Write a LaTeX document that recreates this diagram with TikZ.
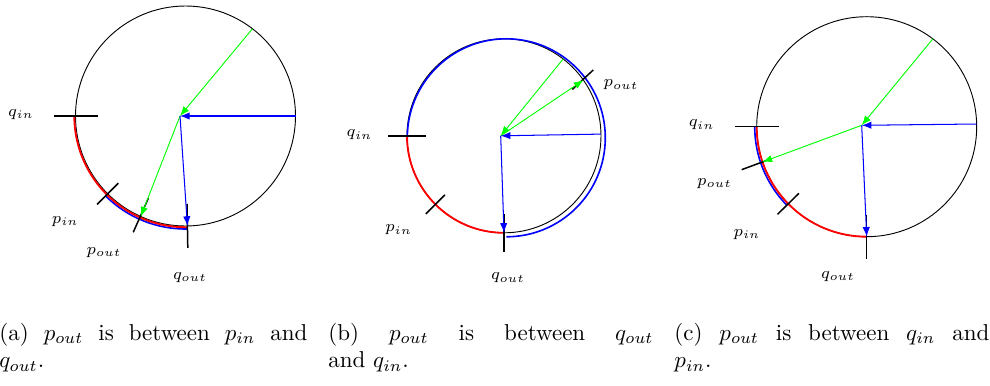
\documentclass[tikz,border=0pt]{standalone}
\usepackage{amsmath}
\usetikzlibrary{arrows.meta,calc}
\tikzset{
  >={Latex[length=4.2pt,width=3.2pt]},
  line cap=round,
  rim/.style={line width=0.4pt},
  ticmark/.style={line width=0.65pt, line cap=butt},
  inarc/.style={red, line width=0.8pt},
  outarc/.style={blue, line width=0.7pt},
  gvec/.style={->, green, line width=0.4pt},
  bvec/.style={->, blue, line width=0.45pt},
  lbl/.style={inner sep=0pt, font=\fontsize{7.4}{8.8}\selectfont},
  capt/.style={anchor=north west, inner sep=0pt, align=justify, font=\fontsize{10}{12}\selectfont}
}
\begin{document}
\begin{tikzpicture}[x=0.435pt, y=0.435pt]
  \useasboundingbox (0,0) rectangle (990,385);

  % (a)
  \begin{scope}[shift={(185.5,269)}]
    \coordinate (a-c) at (0,0);
    \coordinate (a-P) at (-5.5,0);
    \coordinate (a-qin) at (180:110);
    \coordinate (a-pin) at (225:110);
    \coordinate (a-pout) at (246:110);
    \coordinate (a-qout) at (271:110);
    \coordinate (a-east) at (0:110);
    \coordinate (a-ne) at (52.5:110);

    \draw[rim] (a-c) circle (110);
    \draw[outarc] (225:113) arc (225:271:113);
    \draw[inarc] (180:111.2) arc (180:271:111.2);

    \draw[ticmark] (180:88) -- (180:132);
    \draw[ticmark] (225:95) -- (225:125);
    \draw[ticmark] (245.7:90.3) -- (245.8:127.5);
    \draw[ticmark] (271:88) -- (271:132);

    \draw[gvec] (a-ne) -- (a-P);
    \draw[gvec] (a-P) -- (a-pout);
    \draw[bvec] (a-east) -- (a-P);
    \draw[bvec] (a-P) -- (a-qout);

    \node[lbl] (a-qinlbl) at (-164.5,1.5) {$q_{in}$};
    \node[lbl] (a-pinlbl) at (-120.2,-105.7) {$p_{in}$};
    \node[lbl] (a-poutlbl) at (-81.5,-136.5) {$p_{out}$};
    \node[lbl] (a-qoutlbl) at (4.5,-161.5) {$q_{out}$};
  \end{scope}

  % (b)
  \begin{scope}[shift={(504,249.2)}]
    \coordinate (b-c) at (0,0);
    \coordinate (b-P) at (-3.3,0);
    \coordinate (b-qin) at (180:97);
    \coordinate (b-pin) at (225:97);
    \coordinate (b-pout) at (35:97);
    \coordinate (b-qout) at (270:97);
    \coordinate (b-east) at (1:97);
    \coordinate (b-ne) at (52.4:97);

    \draw[rim] (b-c) circle (97);
    \draw[outarc] ($(2.3,-2)+(180:99)$) arc (180:-90:99);
    \draw[inarc] (180:97) arc (180:270:97);

    \draw[ticmark] (180:78) -- (180:116);
    \draw[ticmark] (225:83.5) -- (225:110.5);
    \draw[ticmark] (34.2:82.6) -- (36.4:110.9);
    \draw[ticmark] (270:78) -- (270:116);

    \draw[gvec] (b-ne) -- (b-P);
    \draw[gvec] (b-P) -- (b-pout);
    \draw[bvec] (b-east) -- (b-P);
    \draw[bvec] (b-P) -- (b-qout);

    \node[lbl] (b-qinlbl) at (-144.5,0.8) {$q_{in}$};
    \node[lbl] (b-pinlbl) at (-105.3,-94.2) {$p_{in}$};
    \node[lbl] (b-poutlbl) at (117,50.8) {$p_{out}$};
    \node[lbl] (b-qoutlbl) at (4,-142.2) {$q_{out}$};
  \end{scope}

  % (c)
  \begin{scope}[shift={(866.7,258.3)}]
    \coordinate (c-c) at (0,0);
    \coordinate (c-P) at (-5,1.4);
    \coordinate (c-qin) at (180:110);
    \coordinate (c-pin) at (224.5:110);
    \coordinate (c-pout) at (198.7:110);
    \coordinate (c-qout) at (270:110);
    \coordinate (c-east) at (1.4:110);
    \coordinate (c-ne) at (53:110);

    \draw[rim] (c-c) circle (110);
    \draw[outarc] (180:112) arc (180:224.5:112);
    \draw[inarc] (180:110) arc (180:270:110);

    \draw[ticmark] (180:88) -- (180:132);
    \draw[ticmark] (224.5:95) -- (224.5:125);
    \draw[ticmark] ($(c-P)!0.97!(c-pout)$) -- ($(c-P)!1.21!(c-pout)$);
    \draw[ticmark] (270:88) -- (270:132);

    \draw[gvec] (c-ne) -- (c-P);
    \draw[gvec] (c-P) -- (c-pout);
    \draw[bvec] (c-east) -- (c-P);
    \draw[bvec] (c-P) -- (c-qout);

    \node[lbl] (c-qinlbl) at (-165,1.7) {$q_{in}$};
    \node[lbl] (c-poutlbl) at (-152.2,-56.6) {$p_{out}$};
    \node[lbl] (c-pinlbl) at (-119.7,-108) {$p_{in}$};
    \node[lbl] (c-qoutlbl) at (-28.7,-150) {$q_{out}$};
  \end{scope}

  \node[capt, text width=134pt] (a-capt) at (-1,62.7)
    {(a) $p_{out}$ is between $p_{in}$ and\linebreak $q_{out}$.};
  \node[capt, text width=141.4pt] (b-capt) at (328,62.7)
    {(b) $p_{out}$ is between $q_{out}$\linebreak and $q_{in}$.};
  \node[capt, text width=137pt] (c-capt) at (674,62.7)
    {(c) $p_{out}$ is between $q_{in}$ and\linebreak $p_{in}$.};
\end{tikzpicture}
\end{document}
